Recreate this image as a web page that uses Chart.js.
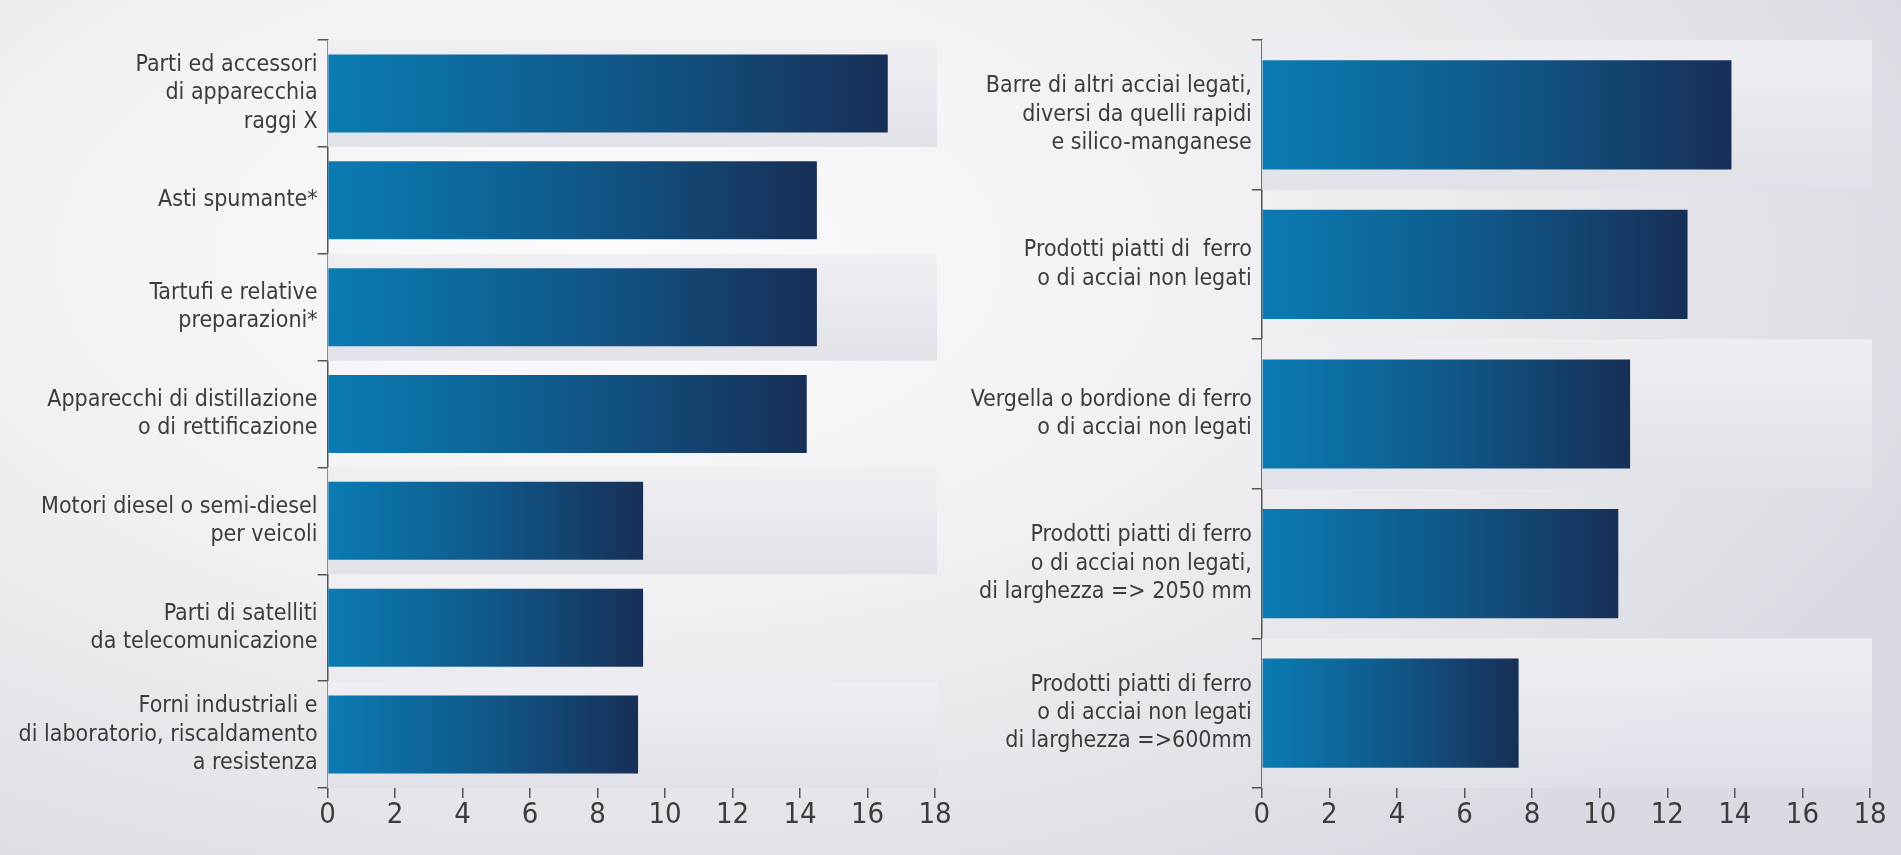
<!DOCTYPE html>
<html>
<head>
<meta charset="utf-8">
<script src="https://cdn.jsdelivr.net/npm/chart.js@4"></script>
<style>
  html, body { margin: 0; padding: 0; }
  body {
    width: 1901px; height: 855px; overflow: hidden; position: relative;
    background: radial-gradient(ellipse 1400px 750px at 32% 30%, #fbfbfc 0%, #f1f1f4 45%, #dadae2 100%);
  }
  .box { position: absolute; top: 0; height: 855px; }
  #leftBox { left: 0; width: 960px; }
  #rightBox { left: 950px; width: 951px; }
</style>
</head>
<body>
<div class="box" id="leftBox"><canvas id="leftCanvas"></canvas></div>
<div class="box" id="rightBox"><canvas id="rightCanvas"></canvas></div>
<script>
// dati
const leftLabels = [
    ['Parti ed accessori', 'di apparecchia', 'raggi X'],
    'Asti spumante*',
    ['Tartufi e relative', 'preparazioni*'],
    ['Apparecchi di distillazione', 'o di rettificazione'],
    ['Motori diesel o semi-diesel', 'per veicoli'],
    ['Parti di satelliti', 'da telecomunicazione'],
    ['Forni industriali e', 'di laboratorio, riscaldamento', 'a resistenza']
];
const leftValues = [16.6, 14.5, 14.5, 14.2, 9.35, 9.35, 9.2];

const rightLabels = [
    ['Barre di altri acciai legati,', 'diversi da quelli rapidi', 'e silico-manganese'],
    ['Prodotti piatti di  ferro', 'o di acciai non legati'],
    ['Vergella o bordione di ferro', 'o di acciai non legati'],
    ['Prodotti piatti di ferro', 'o di acciai non legati,', 'di larghezza => 2050 mm'],
    ['Prodotti piatti di ferro', 'o di acciai non legati', 'di larghezza =>600mm']
];
const rightValues = [13.9, 12.6, 10.9, 10.55, 7.6];

const xMin = 0;
const xMax = 18;
const xStep = 2;

const fontFamily = "'Liberation Sans Narrow', 'DejaVu Sans Condensed', 'Arial Narrow', sans-serif";
const textColor = '#3c3c3c';
const axisColor = '#555555';

// fasce grigie alternate dietro le barre
const bandsPlugin = {
    id: 'bands',
    beforeDatasetsDraw(chart) {
        const y = chart.scales.y;
        const area = chart.chartArea;
        const ctx = chart.ctx;
        const n = chart.data.labels.length;
        const h = (y.bottom - y.top) / n;
        ctx.save();
        for (let i = 0; i < n; i += 2) {
            const c = y.getPixelForValue(i);
            const g = ctx.createLinearGradient(0, c - h / 2, 0, c + h / 2);
            g.addColorStop(0, 'rgba(238,238,243,0.95)');
            g.addColorStop(1, 'rgba(224,224,232,0.95)');
            ctx.fillStyle = g;
            ctx.fillRect(area.left, c - h / 2, area.right - area.left + 2, h);
        }
        ctx.restore();
    }
};

function barGradient(context) {
    const chart = context.chart;
    const x = chart.scales.x;
    const v = context.raw;
    if (!x || typeof v !== 'number') return '#10598a';
    const x0 = x.getPixelForValue(0);
    const x1 = x.getPixelForValue(v);
    if (!isFinite(x0) || !isFinite(x1) || x1 === x0) return '#10598a';
    const g = chart.ctx.createLinearGradient(x0, 0, x1, 0);
    g.addColorStop(0, '#0a7cb3');
    g.addColorStop(0.5, '#10598a');
    g.addColorStop(1, '#172f57');
    return g;
}

function makeChart(canvasId, labels, values, yWidth, padRight) {
    const ctx = document.getElementById(canvasId).getContext('2d');
    return new Chart(ctx, {
        type: 'bar',
        data: {
            labels: labels,
            datasets: [{
                data: values,
                backgroundColor: barGradient,
                borderWidth: 0,
                barPercentage: 0.73,
                categoryPercentage: 1
            }]
        },
        options: {
            indexAxis: 'y',
            responsive: true,
            maintainAspectRatio: false,
            animation: false,
            layout: { padding: { top: 40, bottom: 0, left: 0, right: padRight } },
            plugins: {
                legend: { display: false },
                tooltip: { enabled: false }
            },
            scales: {
                x: {
                    min: xMin,
                    max: xMax,
                    ticks: {
                        stepSize: xStep,
                        color: textColor,
                        padding: 0,
                        font: { family: fontFamily, size: 29 }
                    },
                    grid: {
                        display: true,
                        drawOnChartArea: false,
                        drawTicks: true,
                        tickLength: 10,
                        color: axisColor,
                        lineWidth: 1.5
                    },
                    border: { display: false },
                    afterFit(scale) {
                        scale.height = 67;
                        scale.paddingLeft = 0;
                        scale.paddingRight = 0;
                    }
                },
                y: {
                    ticks: {
                        color: textColor,
                        padding: 0,
                        font: { family: fontFamily, size: 23, lineHeight: 1.23 }
                    },
                    grid: {
                        display: true,
                        offset: true,
                        drawOnChartArea: false,
                        drawTicks: true,
                        tickLength: 10,
                        color: axisColor,
                        lineWidth: 1.5
                    },
                    border: { display: true, color: axisColor, width: 1.5 },
                    afterFit(scale) {
                        scale.width = yWidth;
                        scale.paddingTop = 0;
                        scale.paddingBottom = 0;
                    }
                }
            }
        },
        plugins: [bandsPlugin]
    });
}

makeChart('leftCanvas', leftLabels, leftValues, 327.6, 25);
makeChart('rightCanvas', rightLabels, rightValues, 311.8, 31);
</script>
</body>
</html>
